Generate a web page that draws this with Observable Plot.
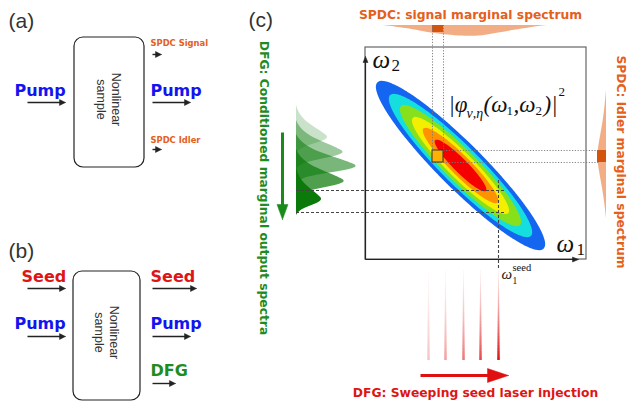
<!DOCTYPE html>
<html>
<head>
<meta charset="utf-8">
<script src="https://cdn.jsdelivr.net/npm/d3@7"></script>
<script src="https://cdn.jsdelivr.net/npm/@observablehq/plot@0.6"></script>
<style>
  html, body { margin: 0; padding: 0; background: #fff; }
  #chart svg { display: block; }
</style>
</head>
<body>
<div id="chart"></div>
<script>
// ================= DATA =================
const panelLabels = ["(a)", "(b)", "(c)"];
const sampleText = "Nonlinear\nsample";
const beamsAIn = ["Pump"];
const beamsAOut = ["SPDC Signal", "Pump", "SPDC Idler"];
const beamsBIn = ["Seed", "Pump"];
const beamsBOut = ["Seed", "Pump", "DFG"];
const titleSignal = "SPDC: signal marginal spectrum";
const titleIdler = "SPDC: idler marginal spectrum";
const titleDFG = "DFG: Conditioned marginal output spectra";
const titleSeed = "DFG: Sweeping seed laser injection";

// |phi(w1,w2)|^2 contour levels (fraction of peak) and their colours
const jsaLevels = [0.37, 0.49, 0.60, 0.72, 0.82, 0.91];
const jsaColors = ["#1466f0", "#14dede", "#86e01c", "#f4ee00", "#ff9200", "#f40000"];

// SPDC signal marginal (relative intensity, read along w1)
const signalProfile = [0, 0.12, 0.27, 0.5, 0.7, 0.87, 0.97, 1, 0.9, 0.65, 0.45, 0.2, 0];
// SPDC idler marginal (relative intensity, read along w2)
const idlerProfile = [0, 0.15, 0.35, 0.65, 0.85, 1, 0.9, 0.6, 0.3, 0.12, 0];
// DFG conditioned spectra: relative heights, opacities, common shape profile
const dfgHeights = [0.52, 0.78, 1.0, 0.8, 0.42];
const dfgOpacity = [0.22, 0.4, 0.55, 0.72, 1];
const dfgProfile = [0, 0.06, 0.18, 0.38, 0.62, 0.82, 0.95, 1, 0.9, 0.6, 0.3, 0.1, 0];
// seed laser sweep: relative intensity of each injected seed
const seedIntensity = [0.25, 0.4, 0.57, 0.77, 1];

// ================= LAYOUT =================
const W = 627, H = 406;
const L = {
  signalX: [383, 395, 405, 420, 432, 447, 462, 472, 485, 500, 513, 530, 547], signalBase: 25, signalDepth: 11,
  idlerY: [90, 105, 120, 135, 145, 155, 165, 180, 195, 208, 218], idlerBase: 606, idlerDepth: 9,
  dfgBase: 296, dfgPeakY: [137, 152, 166, 181, 199], dfgMaxAmp: 61,
  dfgDy: [-32, -26, -20, -14, -9, -5, -2, 0, 3, 6, 9, 12, 16],
  seedX: [428, 445, 463, 480, 498], seedTop: 270, seedBottom: 360,
  jsa: {cx: 460, cy: 165, a: 118, b: 22.5}
};

const SANSB = {fontFamily: "DejaVu Sans, Verdana, sans-serif", fontWeight: "bold"};
const SANS = {fontFamily: "Liberation Sans, Arial, sans-serif"};
const SERIF = {fontFamily: "Liberation Serif, DejaVu Serif, serif", fill: "#111", textAnchor: "start"};
const ITAL = {...SERIF, fontStyle: "italic"};
const ORANGE = "#e4601c", RED = "#dd1515", BLUE = "#1414f0", GREEN = "#1f8c1f";

function txt(text, x, y, o = {}) {
  return Plot.text([{x, y, text}], {x: "x", y: "y", text: "text", lineAnchor: "middle", ...o});
}

function arrows(list, color) {
  const shafts = [], heads = [];
  list.forEach((a, i) => {
    const dx = a.x2 - a.x1, dy = a.y2 - a.y1, len = Math.hypot(dx, dy);
    const ux = dx / len, uy = dy / len, px = -uy, py = ux;
    const bx = a.x2 - ux * a.head, by = a.y2 - uy * a.head;
    shafts.push({x1: a.x1, y1: a.y1, x2: a.x2 - ux * a.head * 0.7, y2: a.y2 - uy * a.head * 0.7, w: a.w});
    heads.push({id: i, x: a.x2, y: a.y2}, {id: i, x: bx + px * a.hw, y: by + py * a.hw},
               {id: i, x: bx - px * a.hw, y: by - py * a.hw}, {id: i, x: a.x2, y: a.y2});
  });
  return [
    Plot.link(shafts, {x1: "x1", y1: "y1", x2: "x2", y2: "y2", stroke: color, strokeWidth: "w"}),
    Plot.line(heads, {x: "x", y: "y", z: "id", fill: color, stroke: color, strokeWidth: 0.5})
  ];
}

// ---- derived rows ----
const signalRows = signalProfile.map((v, i) => ({x: L.signalX[i], y1: L.signalBase, y2: L.signalBase + v * L.signalDepth}));
const idlerRows = idlerProfile.map((v, i) => ({y: L.idlerY[i], x1: L.idlerBase - v * L.idlerDepth, x2: L.idlerBase}));
const dfgMarks = dfgHeights.map((h, j) =>
  Plot.areaX(dfgProfile.map((v, k) => ({y: L.dfgPeakY[j] + L.dfgDy[k], x1: L.dfgBase, x2: L.dfgBase + v * h * L.dfgMaxAmp})),
    {y: "y", x1: "x1", x2: "x2", fill: "#0b7a0b", fillOpacity: dfgOpacity[j], curve: "basis"}));

const NSEG = 30;
const seedSegs = seedIntensity.flatMap((s, i) => d3.range(NSEG).map(k => {
  const h = (L.seedBottom - L.seedTop) / NSEG;
  return {x: L.seedX[i], y1: L.seedTop + k * h, y2: L.seedTop + (k + 1) * h,
          o: s * (0.08 + 0.92 * Math.pow((k + 0.5) / NSEG, 1.3)), w: 0.6 + 2.0 * (k + 1) / NSEG};
}));

const {cx, cy, a, b} = L.jsa;
const jsa = (x, y) => {
  const u = ((x - cx) + (y - cy)) / Math.SQRT2, v = ((x - cx) - (y - cy)) / Math.SQRT2;
  return Math.exp(-(u * u / (a * a) + v * v / (b * b)));
};
const contourMarks = jsaLevels.map((t, i) => Plot.contour({
  value: jsa, x1: 350, x2: 570, y1: 60, y2: 265, thresholds: [t], fill: jsaColors[i], stroke: "none"
}));

const dotted = {stroke: "#777", strokeWidth: 0.9, strokeDasharray: "1.2,1.6"};
const dashed = {stroke: "#444", strokeWidth: 1.1, strokeDasharray: "3,2"};

const smallArrows = [
  {x1: 27, y1: 102, x2: 65, y2: 102}, {x1: 152, y1: 102, x2: 190, y2: 102},
  {x1: 152, y1: 54, x2: 161, y2: 54}, {x1: 152, y1: 149, x2: 161, y2: 149},
  {x1: 27, y1: 288, x2: 65, y2: 288}, {x1: 27, y1: 336, x2: 65, y2: 336},
  {x1: 152, y1: 288, x2: 196, y2: 288}, {x1: 152, y1: 336, x2: 190, y2: 336},
  {x1: 152, y1: 383, x2: 175, y2: 383}
].map(d => ({...d, w: 1.4, head: 6, hw: 3}));
const axisArrows = [
  {x1: 365, y1: 259, x2: 365, y2: 56, w: 1.2, head: 6, hw: 2.5},
  {x1: 365, y1: 259, x2: 578, y2: 259, w: 1.2, head: 6, hw: 2.5}
];

const chart = Plot.plot({
  width: W, height: H, margin: 0,
  x: {domain: [0, W], range: [0, W], axis: null},
  y: {domain: [0, H], range: [0, H], axis: null},
  opacity: {domain: [0, 1], range: [0, 1]},
  style: {background: "white"},
  marks: [
    // sample boxes
    Plot.rect([{x1: 74, x2: 144, y1: 37, y2: 167}, {x1: 73, x2: 140, y1: 271, y2: 400}],
      {x1: "x1", x2: "x2", y1: "y1", y2: "y2", rx: 9, fill: "white", stroke: "#222", strokeWidth: 1.2}),
    // JSA frame
    Plot.rect([{x1: 365, x2: 586, y1: 47, y2: 259}], {x1: "x1", x2: "x2", y1: "y1", y2: "y2", fill: "none", stroke: "#666", strokeWidth: 1.2}),
    // marginals
    Plot.areaY(signalRows, {x: "x", y1: "y1", y2: "y2", fill: "#e8691f", fillOpacity: 0.55, curve: "basis"}),
    Plot.areaX(idlerRows, {y: "y", x1: "x1", x2: "x2", fill: "#e8691f", fillOpacity: 0.55, curve: "basis"}),
    Plot.rect([{x1: 432, x2: 443, y1: 25, y2: 32}, {x1: 597, x2: 606, y1: 150, y2: 162}],
      {x1: "x1", x2: "x2", y1: "y1", y2: "y2", fill: "#d5540c"}),
    // JSA contours
    ...contourMarks,
    // dotted guides
    Plot.ruleX([432, 443], {x: d => d, y1: 25, y2: 162, ...dotted}),
    Plot.ruleY([150, 162], {y: d => d, x1: 432, x2: 600, ...dotted}),
    Plot.rect([{x1: 432, x2: 443, y1: 150, y2: 162}], {x1: "x1", x2: "x2", y1: "y1", y2: "y2", fill: "#ffb000", stroke: "#333", strokeWidth: 1}),
    // DFG spectra
    ...dfgMarks,
    Plot.ruleY([190, 212], {y: d => d, x1: 296, x2: 505, ...dashed}),
    Plot.ruleX([498], {x: d => d, y1: 180, y2: 268, ...dashed}),
    // seed sweep lines
    Plot.ruleX(seedSegs, {x: "x", y1: "y1", y2: "y2", stroke: "#e01010", strokeOpacity: "o", strokeWidth: "w"}),
    // arrows
    ...arrows(axisArrows, "#222"),
    ...arrows(smallArrows, "#222"),
    ...arrows([{x1: 420, y1: 375, x2: 508, y2: 375, w: 3, head: 21, hw: 7}], "#e01010"),
    ...arrows([{x1: 282, y1: 132, x2: 282, y2: 219, w: 3, head: 15, hw: 5.5}], "#1a8a1a"),
    // panel labels
    txt(panelLabels[0], 8, 20.5, {...SANS, fontSize: 21, fill: "#333", textAnchor: "start"}),
    txt(panelLabels[1], 8, 251, {...SANS, fontSize: 21, fill: "#333", textAnchor: "start"}),
    txt(panelLabels[2], 248, 20, {...SANS, fontSize: 21, fill: "#333", textAnchor: "start"}),
    // sample labels
    txt(sampleText, 108.5, 99, {...SANS, fontSize: 12.5, fill: "#333", rotate: 90, lineHeight: 1.2}),
    txt(sampleText, 107, 332, {...SANS, fontSize: 12.5, fill: "#333", rotate: 90, lineHeight: 1.2}),
    // panel (a) beams
    txt(beamsAIn[0], 14, 90, {...SANSB, fontSize: 16, fill: BLUE, textAnchor: "start"}),
    txt(beamsAOut[0], 150, 42.6, {...SANSB, fontSize: 8.4, fill: ORANGE, textAnchor: "start"}),
    txt(beamsAOut[1], 150, 90, {...SANSB, fontSize: 16, fill: BLUE, textAnchor: "start"}),
    txt(beamsAOut[2], 150, 139.4, {...SANSB, fontSize: 8.4, fill: ORANGE, textAnchor: "start"}),
    // panel (b) beams
    txt(beamsBIn[0], 21, 276, {...SANSB, fontSize: 16, fill: RED, textAnchor: "start"}),
    txt(beamsBIn[1], 14, 323, {...SANSB, fontSize: 16, fill: BLUE, textAnchor: "start"}),
    txt(beamsBOut[0], 150, 276, {...SANSB, fontSize: 16, fill: RED, textAnchor: "start"}),
    txt(beamsBOut[1], 150, 323, {...SANSB, fontSize: 16, fill: BLUE, textAnchor: "start"}),
    txt(beamsBOut[2], 150, 370, {...SANSB, fontSize: 16, fill: GREEN, textAnchor: "start"}),
    // panel (c) titles
    txt(titleSignal, 470, 14.6, {...SANSB, fontSize: 12.3, fill: ORANGE}),
    txt(titleIdler, 620, 161.5, {...SANSB, fontSize: 12.3, fill: ORANGE, rotate: 90}),
    txt(titleDFG, 263, 187.5, {...SANSB, fontSize: 12.3, fill: GREEN, rotate: 90}),
    txt(titleSeed, 475, 393, {...SANSB, fontSize: 12.3, fill: RED}),
    // math labels
    txt("ω", 372, 59, {...ITAL, fontSize: 25}),
    txt("2", 391, 65, {...SERIF, fontSize: 17}),
    txt("ω", 556, 243, {...ITAL, fontSize: 25}),
    txt("1", 576, 249, {...SERIF, fontSize: 17}),
    txt("ω", 501, 274, {...ITAL, fontSize: 15}),
    txt("1", 512, 280, {...SERIF, fontSize: 9.5}),
    txt("seed", 512, 267, {...SERIF, fontSize: 10.5}),
    txt("|φ", 448, 104, {...ITAL, fontSize: 23}),
    txt("ν,η", 466, 113, {...ITAL, fontSize: 14}),
    txt("(ω", 483, 104, {...ITAL, fontSize: 23}),
    txt("1", 506, 110, {...SERIF, fontSize: 13}),
    txt(",ω", 513, 104, {...ITAL, fontSize: 23}),
    txt("2", 535, 110, {...SERIF, fontSize: 13}),
    txt(")|", 543, 104, {...ITAL, fontSize: 23}),
    txt("2", 558, 91, {...SERIF, fontSize: 13})
  ]
});
document.getElementById("chart").appendChild(chart);
</script>
</body>
</html>
